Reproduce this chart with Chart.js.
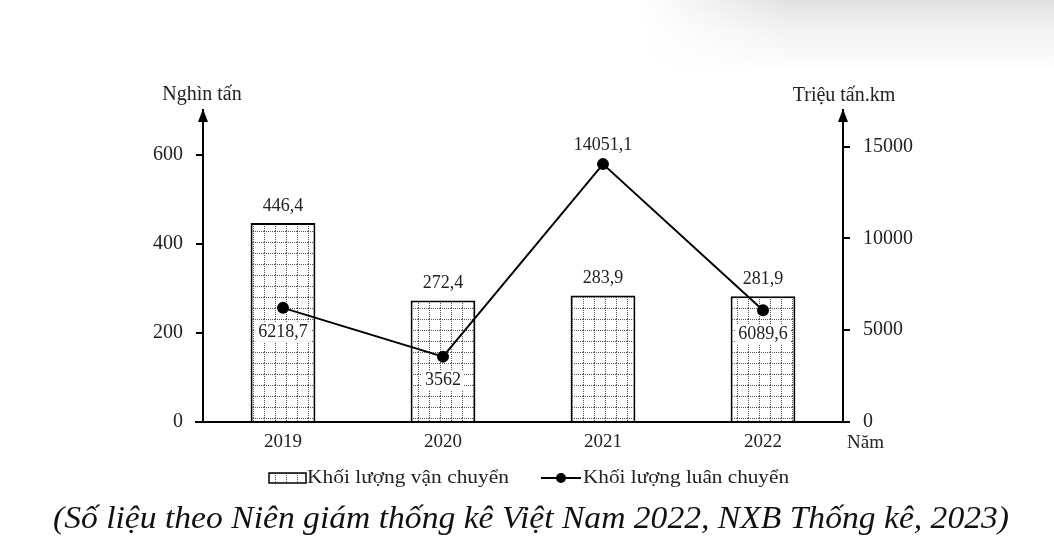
<!DOCTYPE html>
<html>
<head>
<meta charset="utf-8">
<script src="https://cdn.jsdelivr.net/npm/chart.js@4.4.1/dist/chart.umd.min.js"></script>
<style>
  html, body { margin: 0; padding: 0; background: #fff; }
  #wrap { position: relative; width: 1054px; height: 540px; overflow: hidden; }
  #shade { position: absolute; left: 640px; top: 0; width: 414px; height: 75px;
    background: linear-gradient(to bottom, #e2e2e2 0%, #f3f3f3 40%, rgba(255,255,255,0) 100%);
    -webkit-mask-image: linear-gradient(to right, transparent 0%, #000 35%);
    mask-image: linear-gradient(to right, transparent 0%, #000 35%); }
  canvas { position: absolute; left: 0; top: 0; }
</style>
</head>
<body>
<div id="wrap"><div id="shade"></div><canvas id="c" width="1054" height="540"></canvas></div>
<script>
// ---- data ----
const categories = ['2019', '2020', '2021', '2022'];
const vanChuyen = [446.4, 272.4, 283.9, 281.9];          // Nghìn tấn
const luanChuyen = [6218.7, 3562, 14051.1, 6089.6];      // Triệu tấn.km
const leftTicks = [0, 200, 400, 600];
const rightTicks = [0, 5000, 10000, 15000];
const seriesNames = ['Khối lượng vận chuyển', 'Khối lượng luân chuyển'];
const leftTitle = 'Nghìn tấn';
const rightTitle = 'Triệu tấn.km';
const xTitle = 'Năm';
const caption = '(Số liệu theo Niên giám thống kê Việt Nam 2022, NXB Thống kê, 2023)';

const FONT = '"Liberation Serif", "Times New Roman", serif';
const fmt = v => String(v).replace('.', ',');

function makePattern() {
  const p = document.createElement('canvas');
  p.width = 11; p.height = 11;
  const g = p.getContext('2d');
  g.fillStyle = '#fff'; g.fillRect(0, 0, 11, 11);
  g.fillStyle = '#555';
  for (let i = 0; i < 11; i += 2) { g.fillRect(i, 0, 1, 1); g.fillRect(0, i, 1, 1); }
  return g.createPattern(p, 'repeat');
}
const ctx0 = document.getElementById('c').getContext('2d');
const pattern = makePattern();

const linePos = ['below', 'below', 'above', 'below'];

function stretchText(ctx, text, x, y, targetW, align) {
  const w = ctx.measureText(text).width;
  const k = targetW / w;
  ctx.save();
  ctx.translate(x, y);
  ctx.scale(k, 1);
  ctx.textAlign = align;
  ctx.fillText(text, 0, 0);
  ctx.restore();
}

const decor = {
  id: 'decor',
  afterDatasetsDraw(chart) {
    const ctx = chart.ctx;
    ctx.save();
    ctx.font = '18px ' + FONT;
    ctx.fillStyle = '#222';
    ctx.textAlign = 'center';
    ctx.textBaseline = 'middle';
    chart.getDatasetMeta(0).data.forEach((el, i) => {
      ctx.fillText(fmt(vanChuyen[i]), el.x, el.y - 17);
    });
    chart.getDatasetMeta(1).data.forEach((el, i) => {
      const t = fmt(luanChuyen[i]);
      const y = linePos[i] === 'below' ? el.y + 24 : el.y - 19;
      if (linePos[i] === 'below') {
        const w = ctx.measureText(t).width + 6;
        ctx.fillStyle = '#fff';
        ctx.fillRect(el.x - w / 2, y - 10, w, 20);
      }
      ctx.fillStyle = '#222';
      ctx.fillText(t, el.x, y);
    });
    ctx.restore();
  },
  afterDraw(chart) {
    const ctx = chart.ctx;
    const ca = chart.chartArea;
    ctx.save();
    ctx.strokeStyle = '#000';
    ctx.fillStyle = '#000';
    ctx.lineWidth = 2;
    ctx.beginPath();
    ctx.moveTo(ca.left - 8, ca.bottom); ctx.lineTo(ca.right + 7, ca.bottom);
    ctx.stroke();
    [ca.left, ca.right].forEach(x => {
      ctx.beginPath();
      ctx.moveTo(x, ca.top - 1);
      ctx.lineTo(x - 5, ca.top + 12);
      ctx.lineTo(x + 5, ca.top + 12);
      ctx.closePath();
      ctx.fill();
    });
    ctx.fillStyle = '#222';
    ctx.font = '20px ' + FONT;
    ctx.textBaseline = 'middle';
    ctx.textAlign = 'center';
    ctx.fillText(leftTitle, ca.left - 1, ca.top - 15);
    ctx.fillText(rightTitle, ca.right + 1, ca.top - 14);
    ctx.font = '19px ' + FONT;
    ctx.textAlign = 'left';
    ctx.fillText(xTitle, ca.right + 4, ca.bottom + 21);
    // legend
    const ly = 478;
    ctx.fillStyle = pattern;
    ctx.fillRect(269, ly - 5, 37, 10);
    ctx.lineWidth = 1.5;
    ctx.strokeRect(269, ly - 5, 37, 10);
    ctx.fillStyle = '#222';
    ctx.font = '19px ' + FONT;
    stretchText(ctx, seriesNames[0], 307, ly, 202, 'left');
    ctx.lineWidth = 2;
    ctx.beginPath(); ctx.moveTo(541, ly); ctx.lineTo(581, ly); ctx.stroke();
    ctx.fillStyle = '#000';
    ctx.beginPath(); ctx.arc(561, ly, 5, 0, Math.PI * 2); ctx.fill();
    ctx.fillStyle = '#222';
    stretchText(ctx, seriesNames[1], 583, ly, 206, 'left');
    // caption
    ctx.font = 'italic 31px ' + FONT;
    ctx.fillStyle = '#111';
    stretchText(ctx, caption, 531, 520, 956, 'center');
    ctx.restore();
  }
};

new Chart(ctx0, {
  data: {
    labels: categories,
    datasets: [
      {
        type: 'bar', label: seriesNames[0], data: vanChuyen, yAxisID: 'yL',
        backgroundColor: pattern, borderColor: '#000', borderWidth: 2,
        barPercentage: 0.405, categoryPercentage: 1, order: 2
      },
      {
        type: 'line', label: seriesNames[1], data: luanChuyen, yAxisID: 'yR',
        borderColor: '#000', borderWidth: 2, backgroundColor: '#000',
        pointRadius: 6, pointBackgroundColor: '#000', pointBorderWidth: 0,
        tension: 0, order: 1
      }
    ]
  },
  options: {
    responsive: false,
    animation: false,
    devicePixelRatio: 1,
    layout: { padding: { top: 110, left: 0, right: 0, bottom: 0 } },
    plugins: { legend: { display: false }, tooltip: { enabled: false } },
    scales: {
      x: {
        grid: { display: false, drawTicks: false },
        border: { display: true, color: '#000', width: 2 },
        ticks: { font: { family: FONT, size: 19 }, color: '#222', padding: 9 },
        afterFit: s => { s.height = 118; }
      },
      yL: {
        position: 'left', min: 0, max: 700,
        afterBuildTicks: s => { s.ticks = leftTicks.map(v => ({ value: v })); },
        grid: { drawOnChartArea: false, drawTicks: true, tickLength: 7, color: '#000', lineWidth: 2 },
        border: { display: true, color: '#000', width: 2 },
        ticks: { font: { family: FONT, size: 20 }, color: '#222', padding: 13, callback: v => String(v) },
        afterFit: s => { s.width = 203; }
      },
      yR: {
        position: 'right', min: 0, max: 17000,
        afterBuildTicks: s => { s.ticks = rightTicks.map(v => ({ value: v })); },
        grid: { drawOnChartArea: false, drawTicks: true, tickLength: 7, color: '#000', lineWidth: 2 },
        border: { display: true, color: '#000', width: 2 },
        ticks: { font: { family: FONT, size: 20 }, color: '#222', padding: 13, callback: v => String(v) },
        afterFit: s => { s.width = 211; }
      }
    }
  },
  plugins: [decor]
});
</script>
</body>
</html>
